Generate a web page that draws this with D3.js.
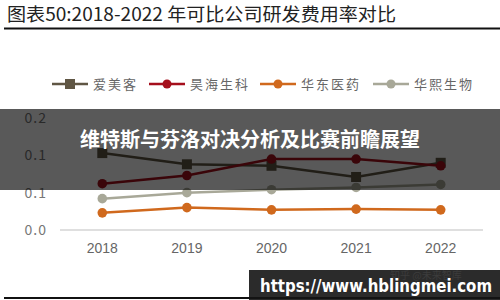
<!DOCTYPE html>
<html>
<head>
<meta charset="utf-8">
<script src="https://cdn.jsdelivr.net/npm/d3@7"></script>
<style>
  body { margin: 0; background: #fff; }
  #canvas { width: 500px; height: 300px; }
  text { font-family: "Noto Sans CJK SC", "Liberation Sans", sans-serif; }
</style>
</head>
<body>
<div id="canvas"></div>
<script>
var years = ['2018', '2019', '2020', '2021', '2022'];
var names = ['爱美客', '昊海生科', '华东医药', '华熙生物'];
var colors = ['#5f5644', '#a50f1c', '#d0691d', '#a8a898'];
var shapes = ['square', 'circle', 'circle', 'circle'];
var aimeike = [0.103, 0.088, 0.086, 0.071, 0.090];
var haohai = [0.062, 0.073, 0.095, 0.095, 0.086];
var huadong = [0.023, 0.030, 0.027, 0.028, 0.027];
var huaxi = [0.042, 0.050, 0.054, 0.057, 0.061];
var yTicks = [0, 0.05, 0.10, 0.15];
var yTickLabels = ['0.0', '0.1', '0.1', '0.2'];

var seriesValues = [aimeike, haohai, huadong, huaxi];

var canvasWidth = 500, canvasHeight = 300;

var svg = d3.select('#canvas')
    .append('svg')
    .attr('width', canvasWidth)
    .attr('height', canvasHeight);

// heading
svg.append('text')
    .attr('x', 7)
    .attr('y', 21)
    .attr('textLength', 389)
    .attr('lengthAdjust', 'spacingAndGlyphs')
    .style('font-size', '18px')
    .style('fill', '#222')
    .text('图表50:2018-2022 年可比公司研发费用率对比');

svg.append('line')
    .attr('x1', 4).attr('x2', 500)
    .attr('y1', 28.5).attr('y2', 28.5)
    .style('stroke', '#111')
    .style('stroke-width', 2);

var x = d3.scaleBand().domain(years).range([60, 483]);
var y = d3.scaleLinear().domain([0, 0.15]).range([230, 118]);

// y labels
svg.selectAll('.ylab')
    .data(yTicks)
    .enter()
    .append('text')
    .attr('class', 'ylab')
    .attr('x', 47)
    .attr('y', function(d) { return y(d); })
    .attr('dy', '0.35em')
    .attr('text-anchor', 'end')
    .style('font-size', '14px')
    .style('letter-spacing', '1px')
    .style('fill', '#777')
    .text(function(d, i) { return yTickLabels[i]; });

// baseline
svg.append('line')
    .attr('x1', 60).attr('x2', 483)
    .attr('y1', y(0)).attr('y2', y(0))
    .style('stroke', '#d4d4d4')
    .style('stroke-width', 1.5);

var xAxis = svg.append('g')
    .attr('transform', 'translate(0,' + 242 + ')')
    .call(d3.axisBottom(x).tickSize(0).tickPadding(0));
xAxis.select('.domain').remove();
xAxis.selectAll('text')
    .attr('dy', '0.75em')
    .style('font-family', '"Liberation Sans", sans-serif')
    .style('font-size', '14px')
    .style('fill', '#666');

var line = d3.line()
    .x(function(d, i) { return x(years[i]) + x.bandwidth() / 2; })
    .y(function(d) { return y(d); });

seriesValues.forEach(function(vals, s) {
    svg.append('path')
        .datum(vals)
        .attr('d', line)
        .style('fill', 'none')
        .style('stroke', colors[s])
        .style('stroke-width', 2.5);
    var g = svg.append('g');
    vals.forEach(function(v, i) {
        var cx = x(years[i]) + x.bandwidth() / 2;
        if (shapes[s] == 'square') {
            g.append('rect')
                .attr('x', cx - 5).attr('y', y(v) - 5)
                .attr('width', 10).attr('height', 10)
                .style('fill', colors[s]);
        } else {
            g.append('circle')
                .attr('cx', cx).attr('cy', y(v))
                .attr('r', 4.8)
                .style('fill', colors[s]);
        }
    });
});

// legend
var legendX = [52, 149, 260, 373];
names.forEach(function(n, i) {
    var lx = legendX[i], ly = 84;
    svg.append('line')
        .attr('x1', lx).attr('x2', lx + 36)
        .attr('y1', ly).attr('y2', ly)
        .style('stroke', colors[i])
        .style('stroke-width', 2.5);
    if (shapes[i] == 'square') {
        svg.append('rect')
            .attr('x', lx + 13).attr('y', ly - 5)
            .attr('width', 10).attr('height', 10)
            .style('fill', colors[i]);
    } else {
        svg.append('circle')
            .attr('cx', lx + 18).attr('cy', ly)
            .attr('r', 4.5)
            .style('fill', colors[i]);
    }
    svg.append('text')
        .attr('x', lx + 41)
        .attr('y', ly)
        .attr('dy', '0.35em')
        .style('font-size', '13px')
        .style('letter-spacing', '2px')
        .style('fill', '#666')
        .text(n);
});

// dark overlay band with headline
svg.append('rect')
    .attr('x', 0).attr('y', 109)
    .attr('width', 500).attr('height', 81)
    .style('fill', 'rgba(0,0,0,0.65)');

svg.append('text')
    .attr('x', 250)
    .attr('y', 140)
    .attr('text-anchor', 'middle')
    .attr('dy', '0.35em')
    .style('font-size', '20px')
    .style('font-weight', 'bold')
    .style('fill', '#fff')
    .text('维特斯与芬洛对决分析及比赛前瞻展望');

// bottom rule and watermark
svg.append('line')
    .attr('x1', 4).attr('x2', 500)
    .attr('y1', 298).attr('y2', 298)
    .style('stroke', '#111')
    .style('stroke-width', 2);

svg.append('rect')
    .attr('x', 249).attr('y', 270)
    .attr('width', 251).attr('height', 30)
    .style('fill', 'rgba(20,20,20,0.9)');

svg.append('text')
    .attr('x', 390)
    .attr('y', 279)
    .style('font-size', '10px')
    .style('fill', '#3c3c3c')
    .text('知乎 @未来智库');

svg.append('text')
    .attr('x', 260)
    .attr('y', 292)
    .attr('textLength', 232)
    .attr('lengthAdjust', 'spacingAndGlyphs')
    .style('font-family', '"DejaVu Sans", sans-serif')
    .style('font-size', '17px')
    .style('font-weight', 'bold')
    .style('fill', '#fff')
    .text('https://www.hblingmei.com');
</script>
</body>
</html>
